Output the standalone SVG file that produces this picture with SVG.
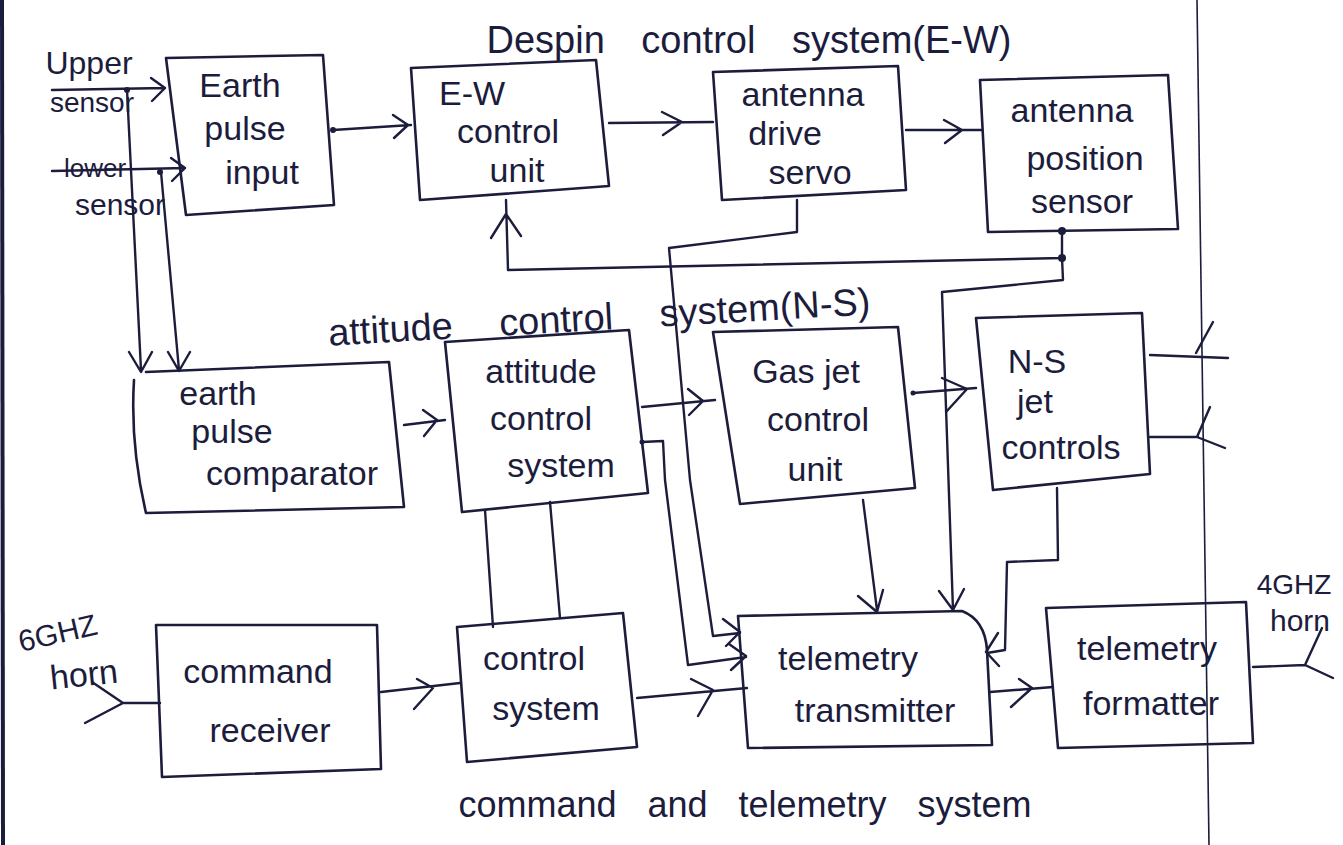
<svg xmlns="http://www.w3.org/2000/svg" width="1343" height="845" viewBox="0 0 1343 845">
<style>
.bx{fill:none;stroke:#1c1c3c;stroke-width:2.6;stroke-linejoin:round;stroke-linecap:round}
.ln{fill:none;stroke:#1c1c3c;stroke-width:2.4;stroke-linecap:round;stroke-linejoin:round}
.pg{fill:none;stroke:#1c1c3c}
.t{font-family:"Liberation Sans",Arial,sans-serif;font-size:34px;fill:#1c1c3c;text-anchor:middle}
.s{font-family:"Liberation Sans",Arial,sans-serif;fill:#1c1c3c;text-anchor:middle}
.dot{fill:#1c1c3c}
</style>
<rect width="1343" height="845" fill="#ffffff"/>
<g id="page">
<path class="pg" stroke-width="4" d="M2,0 L3,845"/>
<path class="pg" stroke-width="1.6" d="M1197,0 L1209,845"/>
</g>
<g id="labels">
<text class="s" x="749" y="53" font-size="38" word-spacing="26">Despin control system(E-W)</text>
<text class="s" x="600" y="330" font-size="38" word-spacing="36" transform="rotate(-3.3 600 330)">attitude control system(N-S)</text>
<text class="s" x="745" y="817" font-size="36" word-spacing="21">command and telemetry system</text>
<text class="s" x="89" y="74" font-size="32">Upper</text>
<text class="s" x="92" y="112" font-size="28">sensor</text>
<text class="s" x="95" y="177" font-size="26">lower</text>
<text class="s" x="120" y="215" font-size="30">sensor</text>
<text class="s" x="60" y="643" font-size="30" transform="rotate(-13 60 643)">6GHZ</text>
<text class="s" x="85" y="686" font-size="34" transform="rotate(-6 85 686)">horn</text>
<text class="s" x="1294" y="594" font-size="28">4GHZ</text>
<text class="s" x="1300" y="631" font-size="30">horn</text>
</g>
<g id="earth-pulse-input">
<path class="bx" d="M166,58 L323,55 L334,205 L186,215 Z"/>
<text class="t" x="240" y="97">Earth</text>
<text class="t" x="245" y="140">pulse</text>
<text class="t" x="262" y="184">input</text>
</g>
<g id="ew-control-unit">
<path class="bx" d="M411,68 L596,60 L609,186 L420,200 Z"/>
<text class="t" x="472" y="105">E-W</text>
<text class="t" x="508" y="143">control</text>
<text class="t" x="517" y="182">unit</text>
</g>
<g id="antenna-drive-servo">
<path class="bx" d="M713,72 L898,66 L906,190 L722,200 Z"/>
<text class="t" x="803" y="106">antenna</text>
<text class="t" x="785" y="145">drive</text>
<text class="t" x="810" y="184">servo</text>
</g>
<g id="antenna-position-sensor">
<path class="bx" d="M980,80 L1168,75 L1178,229 L988,232 Z"/>
<text class="t" x="1072" y="122">antenna</text>
<text class="t" x="1085" y="170">position</text>
<text class="t" x="1082" y="213">sensor</text>
</g>
<g id="earth-pulse-comparator">
<path class="bx" d="M146,372 L389,362 L404,507 L146,513 Q130,445 134,380"/>
<text class="t" x="218" y="405">earth</text>
<text class="t" x="232" y="443">pulse</text>
<text class="t" x="292" y="485">comparator</text>
</g>
<g id="attitude-control-system">
<path class="bx" d="M445,342 L629,330 L648,493 L462,512 Z"/>
<text class="t" x="541" y="383">attitude</text>
<text class="t" x="541" y="430">control</text>
<text class="t" x="561" y="477">system</text>
</g>
<g id="gas-jet-control-unit">
<path class="bx" d="M713,332 L898,327 L915,488 L740,504 Z"/>
<text class="t" x="806" y="383">Gas jet</text>
<text class="t" x="818" y="431">control</text>
<text class="t" x="815" y="481">unit</text>
</g>
<g id="ns-jet-controls">
<path class="bx" d="M976,318 L1142,313 L1150,474 L993,490 Z"/>
<text class="t" x="1037" y="373">N-S</text>
<text class="t" x="1035" y="413">jet</text>
<text class="t" x="1061" y="459">controls</text>
</g>
<g id="command-receiver">
<path class="bx" d="M156,625 L377,625 L381,769 L162,777 Z"/>
<text class="t" x="258" y="683">command</text>
<text class="t" x="270" y="742">receiver</text>
</g>
<g id="control-system">
<path class="bx" d="M457,627 L623,613 L637,747 L467,762 Z"/>
<text class="t" x="534" y="670">control</text>
<text class="t" x="546" y="720">system</text>
</g>
<g id="telemetry-transmitter">
<path class="bx" d="M738,616 L962,611 Q985,620 987,650 L992,745 L748,748 Z"/>
<text class="t" x="848" y="670">telemetry</text>
<text class="t" x="875" y="722">transmitter</text>
</g>
<g id="telemetry-formatter">
<path class="bx" d="M1046,608 L1246,602 L1253,743 L1058,748 Z"/>
<text class="t" x="1147" y="660">telemetry</text>
<text class="t" x="1151" y="715">formatter</text>
</g>
<g id="connectors">
<path class="ln" d="M52,90 L165,88 M151,78 L165,88 L152,101"/>
<path class="ln" d="M127,90 L141,370 M129,352 L141,372 L152,352"/>
<path class="ln" d="M52,171 L185,168 M171,158 L185,168 L172,181"/>
<path class="ln" d="M161,172 L179,370 M168,352 L179,371 L190,352"/>
<path class="ln" d="M333,130 L411,125 M393,115 L408,125 L394,138"/>
<path class="ln" d="M609,123 L713,122 M662,112 L682,122 L663,135"/>
<path class="ln" d="M906,130 L982,130 M944,120 L962,130 L945,143"/>
<path class="ln" d="M1062,231 L1062,258 L508,270 L506,200 M491,238 L506,214 L521,236"/>
<path class="ln" d="M1062,258 L1063,280 L942,292 L953,610 M939,591 L953,610 L964,589"/>
<path class="ln" d="M797,200 L797,232 L669,248 L690,480 L713,636 L740,633 M723,619 L740,632 L726,646"/>
<path class="ln" d="M642,442 L663,441 L665,480 L688,665 L746,657 M729,644 L746,656 L731,670"/>
<path class="ln" d="M404,425 L445,420 M423,410 L437,420 L424,436"/>
<path class="ln" d="M642,407 L715,400 M688,389 L703,401 L689,415"/>
<path class="ln" d="M913,393 L976,388 M942,378 L967,389 L946,412"/>
<path class="ln" d="M485,510 L493,627 M550,502 L560,618"/>
<path class="ln" d="M863,500 L877,610 M858,596 L877,612 L883,590"/>
<path class="ln" d="M1057,488 L1058,560 L1007,562 L1005,650 L987,653 M998,633 L986,652 L999,666"/>
<path class="ln" d="M1150,355 L1228,358 M1196,353 L1213,322"/>
<path class="ln" d="M1150,437 L1198,437 M1197,437 L1210,407 M1197,437 L1225,448"/>
<path class="ln" d="M381,692 L460,683 M417,679 L433,688 L414,709"/>
<path class="ln" d="M637,698 L747,688 M691,679 L713,690 L698,716"/>
<path class="ln" d="M990,692 L1053,687 M1019,679 L1032,688 L1011,707"/>
<path class="ln" d="M1253,667 L1305,665 L1322,628 M1305,665 L1333,678"/>
<path class="ln" d="M92,682 L123,703 L85,723 M123,703 L160,703"/>
<circle class="dot" cx="127" cy="90" r="3"/>
<circle class="dot" cx="160" cy="172" r="3"/>
<circle class="dot" cx="333" cy="130" r="3"/>
<circle class="dot" cx="1062" cy="231" r="4"/>
<circle class="dot" cx="1062" cy="258" r="4"/>
<circle class="dot" cx="913" cy="393" r="2.5"/>
<circle class="dot" cx="642" cy="442" r="2.5"/>
</g>
</svg>
